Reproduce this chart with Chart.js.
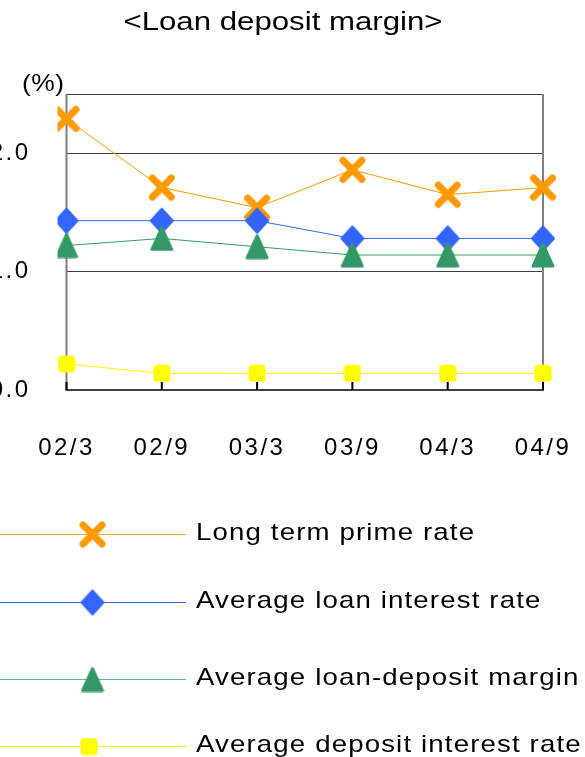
<!DOCTYPE html>
<html>
<head>
<meta charset="utf-8">
<script src="https://cdn.jsdelivr.net/npm/chart.js@4/dist/chart.umd.min.js"></script>
<style>
  html, body { margin: 0; padding: 0; background: #fff; overflow: hidden; width: 585px; height: 757px; }
  #wrap { position: absolute; left: -40px; top: 0; width: 625px; height: 757px; }
</style>
</head>
<body>
<div id="wrap"><canvas id="c" width="625" height="757"></canvas></div>
<script>
// Half-year periods (year/month) and rates in %
const periods = ['02/3', '02/9', '03/3', '03/9', '04/3', '04/9'];
const longTermPrime   = [2.29, 1.71, 1.54, 1.86, 1.65, 1.71];
const avgLoanRate     = [1.43, 1.43, 1.43, 1.28, 1.28, 1.28];
const avgMargin       = [1.22, 1.28, 1.21, 1.14, 1.14, 1.14];
const avgDepositRate  = [0.22, 0.14, 0.14, 0.14, 0.14, 0.14];
const seriesNames = ['Long term prime rate', 'Average loan interest rate',
                     'Average loan-deposit margin', 'Average deposit interest rate'];
const yTickValues = [0, 1, 2];
const yMax = 2.5;

const FONT = '"Liberation Sans", Arial, Helvetica, sans-serif';
const ORANGE = '#FF9900', BLUE = '#3366FF', GREEN = '#339966', YELLOW = '#FFFF00';
const legendLineColors = ['#FFA726', '#3366FF', '#5FB88A', '#FFFF00'];

// Small offscreen canvases used as point styles
function makeMarker(w, h, paint) {
  const cv = document.createElement('canvas');
  cv.width = w; cv.height = h;
  paint(cv.getContext('2d'));
  return cv;
}
const crossMark = makeMarker(28, 28, g => {
  g.strokeStyle = ORANGE; g.lineWidth = 7; g.lineCap = 'round';
  g.beginPath();
  g.moveTo(4.5, 4.5); g.lineTo(23.5, 23.5);
  g.moveTo(23.5, 4.5); g.lineTo(4.5, 23.5);
  g.stroke();
});
const diamondMark = makeMarker(26, 28, g => {
  g.fillStyle = BLUE; g.strokeStyle = BLUE; g.lineWidth = 2; g.lineJoin = 'round';
  g.beginPath();
  g.moveTo(13, 2); g.lineTo(24, 14); g.lineTo(13, 26); g.lineTo(2, 14); g.closePath();
  g.fill(); g.stroke();
});
const triangleMark = makeMarker(24, 26, g => {
  g.fillStyle = GREEN; g.strokeStyle = GREEN; g.lineWidth = 3; g.lineJoin = 'round';
  g.beginPath();
  g.moveTo(12, 2); g.lineTo(22, 24); g.lineTo(2, 24); g.closePath();
  g.fill(); g.stroke();
});
const squareMark = makeMarker(18, 18, g => {
  g.fillStyle = YELLOW;
  g.beginPath();
  g.roundRect(0.5, 0.5, 17, 17, 3.5);
  g.fill();
});

const seriesColors  = [ORANGE, BLUE, GREEN, YELLOW];
const seriesMarkers = [crossMark, diamondMark, triangleMark, squareMark];
const seriesValues  = [longTermPrime, avgLoanRate, avgMargin, avgDepositRate];

// Drawing helper for horizontally widened text
function wideText(ctx, text, x, y, size, stretch, spacing, align) {
  ctx.save();
  ctx.font = size + 'px ' + FONT;
  ctx.letterSpacing = spacing + 'px';
  ctx.fillStyle = '#000';
  ctx.textBaseline = 'middle';
  const w = ctx.measureText(text).width * stretch;
  let x0 = x;
  if (align === 'center') x0 = x - w / 2;
  ctx.translate(x0, y);
  ctx.scale(stretch, 1);
  ctx.textAlign = 'left';
  ctx.fillText(text, 0, 0);
  ctx.restore();
}

const framePlugin = {
  id: 'frame',
  beforeDraw(chart) {
    chart.ctx.letterSpacing = '2.5px';
  },
  beforeDatasetsDraw(chart) {
    const { ctx, chartArea: a, scales } = chart;
    ctx.save();
    ctx.letterSpacing = '0px';
    // top border
    ctx.strokeStyle = '#404040'; ctx.lineWidth = 1;
    ctx.beginPath(); ctx.moveTo(a.left, a.top + 0.5); ctx.lineTo(a.right, a.top + 0.5); ctx.stroke();
    // side borders
    ctx.strokeStyle = '#808080'; ctx.lineWidth = 2;
    ctx.beginPath();
    ctx.moveTo(a.left, a.top); ctx.lineTo(a.left, a.bottom);
    ctx.moveTo(a.right, a.top); ctx.lineTo(a.right, a.bottom);
    ctx.stroke();
    // bottom axis and inward category ticks
    ctx.strokeStyle = '#000'; ctx.lineWidth = 1.5;
    ctx.beginPath(); ctx.moveTo(a.left - 1, a.bottom); ctx.lineTo(a.right + 1, a.bottom); ctx.stroke();
    ctx.lineWidth = 2;
    ctx.beginPath();
    periods.forEach((p, i) => {
      const x = scales.x.getPixelForTick(i);
      ctx.moveTo(x, a.bottom - 8); ctx.lineTo(x, a.bottom);
    });
    ctx.stroke();
    ctx.restore();
  },
  afterDraw(chart) {
    const { ctx } = chart;
    ctx.letterSpacing = '0px';
    // title and unit
    wideText(ctx, '<Loan deposit margin>', 323, 23, 26, 1.2, 0, 'center');
    wideText(ctx, '(%)', 62, 84, 24, 1.1, 0.5, 'left');
    // legend: line, marker and label per series
    const rowY = [534.5, 602.5, 679.5, 746.5];
    const markX = [132.5, 132.5, 132.5, 129];
    seriesNames.forEach((name, i) => {
      const y = rowY[i];
      ctx.save();
      ctx.strokeStyle = legendLineColors[i]; ctx.lineWidth = 1;
      ctx.beginPath(); ctx.moveTo(0, y); ctx.lineTo(226, y); ctx.stroke();
      const m = seriesMarkers[i];
      ctx.drawImage(m, markX[i] - m.width / 2, y - m.height / 2);
      ctx.restore();
      wideText(ctx, name, 236, y - 1, 24, 1.15, 1, 'left');
    });
  }
};

const datasets = seriesNames.map((name, i) => ({
  label: name,
  data: seriesValues[i],
  borderColor: seriesColors[i],
  backgroundColor: seriesColors[i],
  borderWidth: 1,
  tension: 0,
  pointStyle: seriesMarkers[i],
  pointRadius: 12,
  pointHoverRadius: 12,
  order: 4 - i,
  clip: { left: 9, top: 40, right: 40, bottom: 40 }
}));

new Chart(document.getElementById('c'), {
  type: 'line',
  data: { labels: periods, datasets },
  options: {
    responsive: false,
    animation: false,
    events: [],
    layout: { padding: { left: 0, right: 42, top: 94, bottom: 287 } },
    plugins: { legend: { display: false }, title: { display: false }, tooltip: { enabled: false } },
    scales: {
      x: {
        type: 'category',
        offset: false,
        grid: { display: false, drawTicks: false },
        border: { display: false },
        ticks: { font: { family: FONT, size: 24 }, color: '#000', padding: 44, maxRotation: 0, autoSkip: false },
        afterFit(s) { s.height = 80; s.paddingLeft = 0; s.paddingRight = 0; }
      },
      y: {
        min: 0,
        max: yMax,
        grid: {
          drawTicks: false,
          color: c => (c.tick && c.tick.value > 0 && c.tick.value < yMax) ? '#404040' : 'rgba(0,0,0,0)',
          lineWidth: 1
        },
        border: { display: false },
        ticks: {
          font: { family: FONT, size: 24 },
          color: '#000',
          padding: 36,
          callback: v => v.toFixed(1)
        },
        afterBuildTicks(s) { s.ticks = yTickValues.map(v => ({ value: v })); },
        afterFit(s) { s.width = 106.5; s.paddingTop = 0; s.paddingBottom = 0; }
      }
    }
  },
  plugins: [framePlugin]
});
</script>
</body>
</html>
